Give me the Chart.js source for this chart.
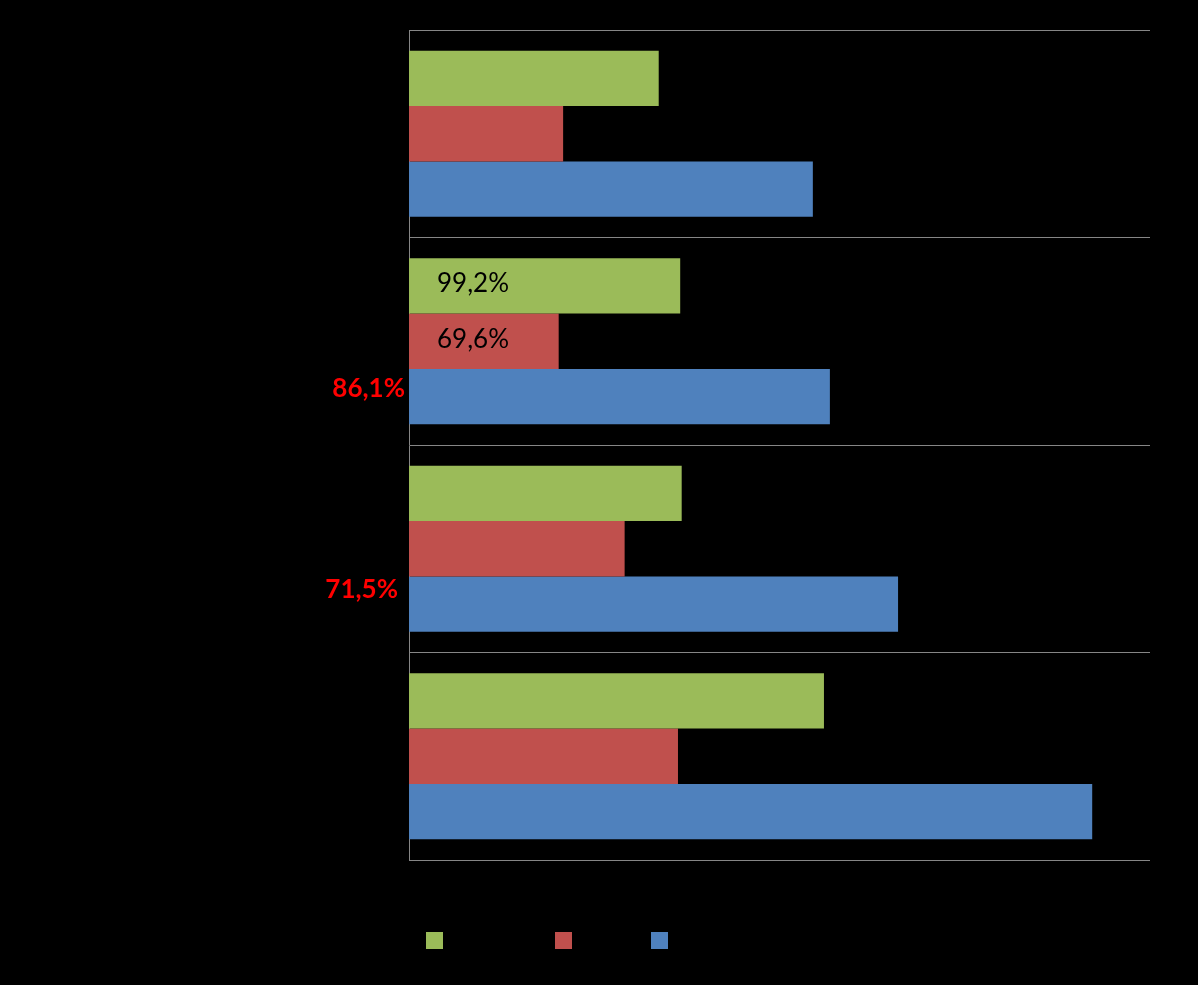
<!DOCTYPE html>
<html>
<head>
<meta charset="utf-8">
<script src="https://cdn.jsdelivr.net/npm/chart.js@4"></script>
<style>
  html, body { margin: 0; padding: 0; background: #000; }
  #wrap { width: 1198px; height: 985px; }
</style>
</head>
<body>
<div id="wrap"><canvas id="chart"></canvas></div>
<script>
// categories (their labels are black on black in the original)
const categories = ["1", "2", "3", "4"];

// series values
const greenValues = [33.7, 36.6, 36.8, 56.0];
const redValues = [20.8, 20.2, 29.1, 36.3];
const blueValues = [54.5, 56.8, 66.0, 92.2];

const seriesNames = ["Série 1", "Série 2", "Série 3"];

// texts written on the chart: [dataset, category, text]
const barNotes = [
  [0, 1, "99,2%"],
  [1, 1, "69,6%"]
];
const sideNotes = [
  [2, 1, "86,1%"],
  [2, 2, "71,5%"]
];

const colors = ["#9bbb59", "#c0504d", "#4f81bd"];

// draws the percentage notes next to / inside the bars
const notesPlugin = {
  id: "notes",
  afterDatasetsDraw(chart) {
    const ctx = chart.ctx;
    const left = chart.chartArea.left;
    ctx.save();
    ctx.textBaseline = "middle";

    ctx.font = "26px Lato";
    ctx.fillStyle = "#000";
    ctx.textAlign = "left";
    barNotes.forEach(([ds, i, txt]) => {
      const bar = chart.getDatasetMeta(ds).data[i];
      ctx.fillText(txt, left + 28, bar.y - 2);
    });

    ctx.font = "bold 26px Lato";
    ctx.fillStyle = "#ff0000";
    ctx.textAlign = "right";
    const shifts = [[-4, -8], [-11, -14]];
    sideNotes.forEach(([ds, i, txt], k) => {
      const bar = chart.getDatasetMeta(ds).data[i];
      ctx.fillText(txt, left + shifts[k][0], bar.y + shifts[k][1]);
    });

    // legend squares (legend text is black in the original)
    const legendX = [426, 555, 651];
    colors.forEach((c, k) => {
      ctx.fillStyle = c;
      ctx.fillRect(legendX[k], 932, 17, 17);
    });
    ctx.restore();
  }
};

new Chart(document.getElementById("chart"), {
  type: "bar",
  data: {
    labels: categories,
    datasets: [
      { label: seriesNames[0], data: greenValues, backgroundColor: colors[0] },
      { label: seriesNames[1], data: redValues, backgroundColor: colors[1] },
      { label: seriesNames[2], data: blueValues, backgroundColor: colors[2] }
    ]
  },
  options: {
    indexAxis: "y",
    responsive: true,
    maintainAspectRatio: false,
    animation: false,
    layout: { padding: { left: 409, top: 30, right: 48, bottom: 125 } },
    datasets: {
      bar: { categoryPercentage: 0.8, barPercentage: 1.0 }
    },
    scales: {
      x: {
        display: false,
        min: 0,
        max: 100
      },
      y: {
        ticks: { display: false },
        grid: { color: "#868686", offset: true, drawTicks: false, lineWidth: 1 },
        border: { display: true, color: "#868686" },
        afterFit(scale) { scale.width = 0; }
      }
    },
    plugins: {
      legend: { display: false },
      tooltip: { enabled: false }
    }
  },
  plugins: [notesPlugin]
});
</script>
</body>
</html>
